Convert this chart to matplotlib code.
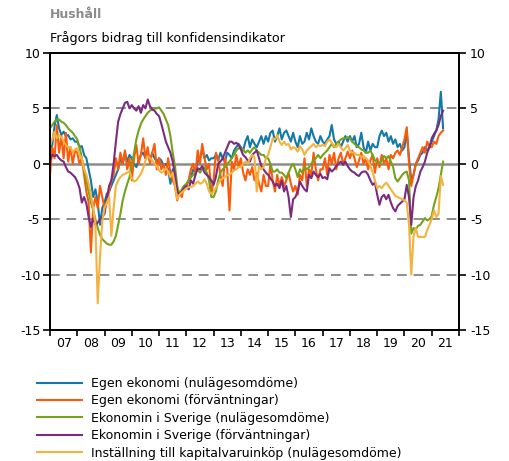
import numpy as np
import matplotlib
matplotlib.use("Agg")
import matplotlib.pyplot as plt

plt.rcParams['font.family'] = ['DejaVu Sans']
plt.rcParams['axes.unicode_minus'] = False

# monthly data, Jan 2007 - Jun 2021
start_year = 2007
year_labels = ['07', '08', '09', '10', '11', '12', '13', '14', '15', '16', '17', '18', '19', '20', '21']
y_ticks = [-15, -10, -5, 0, 5, 10]

labels = ['Egen ekonomi (nulägesomdöme)',
          'Egen ekonomi (förväntningar)',
          'Ekonomin i Sverige (nulägesomdöme)',
          'Ekonomin i Sverige (förväntningar)',
          'Inställning till kapitalvaruinköp (nulägesomdöme)']
colors = ['#1279A8', '#FA5A0A', '#76A21A', '#7B2B80', '#F4B23E']

egen_nu = [
    1.1, 1.7, 3.4, 4.4, 3.2, 2.6, 2.9, 2.5, 2.6, 2.2, 2.3, 2.0,
    2.0, 1.5, 1.6, 0.8, 0.5, -0.5, -1.5, -3.0, -2.3, -3.5, -5.5, -4.0,
    -3.5, -2.7, -2.5, -2.0, -1.5, -1.0, -0.5, 0.5, 0.0, 1.0, 0.2, 0.8,
    0.5, 0.0, -0.3, 0.3, 0.8, 1.0, 0.5, 0.8, 0.3, 1.0, 0.5, 0.2,
    0.5, 0.3, -0.2, 0.0, -0.5, -1.8, -0.5, -1.5, -2.5, -2.8, -2.5, -2.0,
    -2.0, -1.5, -1.2, -0.5, -0.8, 0.2, 0.5, 1.3, 0.5, 0.8, 0.3, 0.5,
    0.5, 0.8, 0.3, 1.0, 0.5, 0.2, 1.0, 0.8, 0.5, 1.2, 1.5, 1.8,
    1.5, 1.2, 2.0, 2.5, 1.5, 2.2, 1.8, 1.5, 2.0, 2.5, 1.8, 2.5,
    2.0, 2.8, 3.0, 2.0, 2.5, 3.2, 2.2, 2.8, 3.0, 2.5, 2.0, 2.8,
    2.0, 1.5, 2.5, 1.8, 2.0, 2.8, 2.2, 3.2, 2.5, 2.0, 1.8, 2.5,
    2.0, 1.8, 2.2, 2.5, 3.5, 2.2, 1.8, 2.0, 1.5, 2.0, 2.5, 2.0,
    2.5, 2.0, 2.5, 1.5, 1.8, 2.8, 1.5, 1.0, 2.0, 1.2, 1.8, 1.5,
    1.5, 2.5, 3.0, 2.5, 2.8, 2.0, 2.5, 1.8, 2.2, 1.5, 1.8, 1.2,
    1.5, 3.0, 0.5, -1.5, -1.0, 0.0, 0.3, 0.8, 1.0, 1.5, 1.2, 1.5,
    2.0, 2.5, 3.0, 4.0, 6.5, 3.2,
]
egen_forv = [
    -1.0, 1.5, 0.5, 3.5, 1.0, 2.5, 0.5, 2.8, 0.2, 1.5, 0.0, 1.2,
    1.0, 0.0, 0.5, -1.0, -2.5, -3.5, -8.0, -4.0, -3.0, -4.0, -2.0, -3.0,
    -4.0, -3.5, -2.5, -1.5, -1.0, 0.5, -0.5, 1.0, 0.0, 1.2, -0.5, 0.5,
    -1.5, 0.5, 1.7, 0.0, 0.8, 2.3, 0.5, 1.5, 0.0, 1.0, 1.8, -0.5,
    0.5, -0.5, 0.0, -1.0, 0.5, -0.8, -1.5, -2.0, -3.3, -2.5, -3.0, -2.0,
    -2.0, -1.5, -0.5, 0.0, -1.0, 1.2, 0.0, 1.8, 0.5, -0.5, 0.0, -2.8,
    -1.5, 1.0, 0.5, -1.0, -2.0, 0.5, -0.5, -4.2, 0.2, -0.5, 0.8, -0.3,
    0.5, -0.8, -1.5, -0.5, -1.0, -0.3, -1.5, -0.8, -1.8, -2.5, -1.0, -2.0,
    -2.0, 0.0, -1.5, -2.5, -1.0, -2.0, -1.2, -2.0, -1.5, -0.8, -1.8, -2.5,
    -2.0, -2.8, -1.0, -1.5, 0.5, -2.0, -0.5, -1.0, 1.0, -0.5, -1.5, -0.5,
    -0.5, 0.5, -1.0, 0.8, 0.0, 1.0, -0.5, 0.5, 1.0, 0.0, 0.5, 1.1,
    0.5, 1.2, 0.5, -0.3, 0.3, 1.0, 0.0, 0.5, -0.5, 0.3, 0.8, -0.8,
    0.5, -0.3, 0.8, 0.0, 0.5, -0.5, 0.8, 0.5, 1.0, 1.2, 0.8, 1.5,
    2.2, 3.3, 0.0, -2.0, -1.0, 0.0, 0.5, 1.0, 1.5, 1.0, 2.0, 1.5,
    1.5, 2.0, 1.8, 2.5, 2.8, 3.0,
]
sverige_nu = [
    3.2, 3.5, 3.8, 4.0, 4.0, 3.8, 3.7, 3.5, 3.2, 3.0, 2.8, 2.5,
    2.2, 1.5, 0.5, -0.5, -1.5, -2.5, -3.5, -4.2, -5.0, -5.8, -6.4, -6.8,
    -7.0, -7.2, -7.3, -7.3, -7.0, -6.5, -5.5, -4.5, -3.3, -2.5, -1.8, -1.2,
    0.0, 1.0, 2.2, 3.0, 3.6, 4.0, 4.3, 4.6, 4.8, 4.9, 5.0, 5.0,
    5.1, 4.8, 4.5, 4.0, 3.5, 2.5, 1.0, -0.2, -2.0, -2.8, -2.3, -2.0,
    -1.8, -1.5, -1.2, -1.0, -0.8, -0.5, -0.8, -0.5, -0.3, -0.8, -1.5, -3.0,
    -3.0, -2.5, -1.5, -0.8, -0.5, -0.3, 0.0, 0.2, 0.5, 0.8, 1.2, 1.4,
    1.4, 1.3, 1.0, 1.2, 1.0, 1.3, 1.5, 1.2, 1.0, 0.8, 0.8, 0.5,
    0.5, 0.0, -0.7, -0.7, -0.5, -0.8, -0.8, -1.0, -1.3, -0.8, -0.3, 0.0,
    -0.5, -1.2, -0.5, -0.8, -0.3, -0.5, -0.3, 0.0, 0.3, 0.5, 0.8, 0.5,
    0.8, 1.0, 1.2, 1.5, 1.8, 1.5, 1.8, 2.0, 2.2, 2.3, 2.3, 2.4,
    2.3, 2.0, 1.8, 1.6, 1.5, 1.3, 1.2, 1.0, 1.0, 1.2, 0.8, 0.3,
    0.2, 0.0, 0.3, 0.7, 0.5, 0.7, 0.2, -0.3, -1.3, -1.6, -1.3, -1.0,
    -0.8, -0.7, -1.5, -6.3, -5.8, -5.9, -5.6, -5.5, -5.2, -4.9, -5.1, -5.0,
    -4.7, -3.7, -3.0, -2.2, -1.0, 0.2,
]
sverige_forv = [
    0.3, 0.8, 0.7, 0.8, 0.5, 0.3, 0.2, -0.3, -0.7, -0.8, -1.0, -1.2,
    -1.6, -2.2, -3.5, -3.0, -3.6, -4.8, -5.7, -4.9, -5.5, -5.3, -5.0, -4.8,
    -4.5, -3.2, -2.0, -1.5, 0.0, 2.0, 3.8, 4.5, 5.0, 5.5, 5.6, 5.0,
    5.3, 5.0, 4.8, 5.2, 4.6, 5.3, 5.0, 5.8, 5.2, 4.9, 4.8, 4.5,
    4.3, 3.6, 2.8, 2.0, 1.5, 1.0, 0.2, -1.0, -2.5, -2.8, -2.5, -2.2,
    -2.0, -2.3, -1.5, -1.8, -1.0, -0.4, -0.5, -0.2, -0.8, -1.0, -1.2, -1.5,
    -1.9, -1.2, 0.0, 0.2, 0.5, 1.0, 1.5, 2.0, 2.0, 1.8, 1.9, 1.7,
    1.3, 0.8, 0.6, 0.3, 0.2, 0.8, 1.0, 1.2, 0.5, -0.2, -0.5, -0.8,
    -1.0, -1.3, -1.6, -2.0, -1.8, -2.2, -1.5, -2.5, -2.0, -3.0, -4.8, -3.2,
    -3.0, -2.5, -1.6, -2.0, -2.3, -2.5, -1.0, -1.3, -0.7, -1.0, -1.2, -0.9,
    -1.3, -1.2, -1.4, -0.4, -0.7, -0.5, -0.2, 0.0, 0.2, -0.1, 0.2, -0.2,
    -0.5, -0.7, -0.8, -1.0, -1.1, -0.8, -0.7, -0.7, -1.0, -1.5, -1.9, -1.7,
    -2.8, -3.7, -3.0, -2.8, -3.2, -2.8, -3.5, -4.0, -4.3, -3.8, -3.6, -3.4,
    -3.2, -1.9, -3.0, -5.5, -3.0, -2.0, -1.5, -0.7, -0.3, 0.2, 1.0, 1.5,
    2.3, 2.7, 3.0, 3.5, 4.3, 4.8,
]
kapitalvaror = [
    1.7, 2.2, 2.9, 2.3, 2.6, 2.4, 2.0, 1.7, 1.5, 1.5, 1.0, 1.3,
    1.4, 0.8, 0.5, -0.5, -1.0, -1.8, -2.8, -4.0, -5.5, -12.6, -8.5, -5.2,
    -4.0, -3.5, -3.0, -6.5, -4.0, -2.0, -1.5, -1.2, -1.0, -0.9, -0.8, -0.7,
    -1.3, -1.6, -1.5, -1.2, -0.9, -0.4, 0.3, 0.7, 0.5, 0.3, 0.0, -0.2,
    -0.6, -0.8, -0.7, -0.4, -0.7, -1.2, -0.8, -2.0, -3.2, -2.8, -2.6, -2.4,
    -2.2, -2.1, -2.1, -2.0, -1.8, -1.6, -1.8, -1.7, -1.4, -1.8, -2.5, -2.7,
    -2.5, -2.2, -1.8, -1.5, -1.3, -1.2, -1.0, -1.0, -0.8, -0.6, -0.5, -0.3,
    -0.3, 0.0, 0.2, 0.0, 0.5, 0.8, 0.6, -2.5, -0.2, -0.5, -0.3, 0.5,
    0.8, 1.5, 2.3, 2.2, 2.6, 2.0, 1.7, 2.0, 1.7, 1.8, 1.3, 1.5,
    1.4, 1.1, 1.6, 1.3, 0.8, 1.2, 1.4, 1.6, 1.8, 1.5, 1.7, 1.6,
    1.7, 1.6, 2.0, 2.2, 1.9, 1.6, 1.5, 1.8, 1.5, 1.2, 1.4, 1.7,
    1.2, 1.0, 1.0, 0.8, 0.8, 0.6, 0.7, 0.5, 0.3, -0.2, -0.8, -1.5,
    -2.2, -2.0, -2.2, -1.9, -1.7, -2.0, -2.3, -2.6, -2.9, -3.0, -3.1, -3.2,
    -3.3, -3.5, -5.5, -10.0, -6.5, -5.8, -6.6, -6.6, -6.6, -6.6, -6.0, -5.5,
    -5.0, -4.2, -4.8, -4.5, -1.1, -1.9,
]

series = [egen_nu, egen_forv, sverige_nu, sverige_forv, kapitalvaror]

fig = plt.figure(figsize=(5.09, 4.61), dpi=100)
ax = fig.add_axes([50 / 509, 1 - 330 / 461, 409 / 509, 277 / 461])

# reference lines
for yv in [5, -5, -10]:
    ax.axhline(yv, color='#8c8c8c', lw=1.4, ls=(0, (5, 3.5)), zorder=1)
ax.axhline(0, color='#8c8c8c', lw=1.8, zorder=1)

for vals, col, lab in zip(series, colors, labels):
    x = start_year + np.arange(len(vals)) / 12.0
    ax.plot(x, vals, color=col, lw=1.5, label=lab, zorder=3)

ax.set_xlim(2007, 2022)
ax.set_ylim(-15, 10)
ax.set_yticks(y_ticks)
ax.set_yticklabels([str(t) for t in y_ticks], fontsize=9)
ax.set_xticks(np.arange(2007, 2023))
ax.set_xticklabels([])
ax.set_xticks(np.arange(2007, 2022) + 0.5, minor=True)
ax.set_xticklabels(year_labels, minor=True, fontsize=9)
ax.tick_params(axis='x', which='major', direction='out', length=4, width=1.2)
ax.tick_params(axis='x', which='minor', length=0, pad=5)
ax.tick_params(axis='y', direction='out', length=5, width=1.2, pad=2)
for s in ax.spines.values():
    s.set_linewidth(1.3)

ax2 = ax.twinx()
ax2.set_ylim(-15, 10)
ax2.set_yticks(y_ticks)
ax2.set_yticklabels([str(t) for t in y_ticks], fontsize=9)
ax2.tick_params(axis='y', direction='out', length=5, width=1.2, pad=3)
for s in ax2.spines.values():
    s.set_linewidth(1.3)

fig.text(50 / 509, 1 - 15 / 461, 'Hushåll', fontsize=9, fontweight='bold',
         color='#8c8c8c', va='center', ha='left')
fig.text(50 / 509, 1 - 38 / 461, 'Frågors bidrag till konfidensindikator',
         fontsize=9.2, color='black', va='center', ha='left')

handles, labs = ax.get_legend_handles_labels()
fig.legend(handles, labs, loc='upper left', bbox_to_anchor=(32 / 509, 1 - 372 / 461),
           frameon=False, fontsize=9, handlelength=3.6, handletextpad=0.7,
           labelspacing=0.35, borderaxespad=0)

fig.savefig('out.png', dpi=100)
